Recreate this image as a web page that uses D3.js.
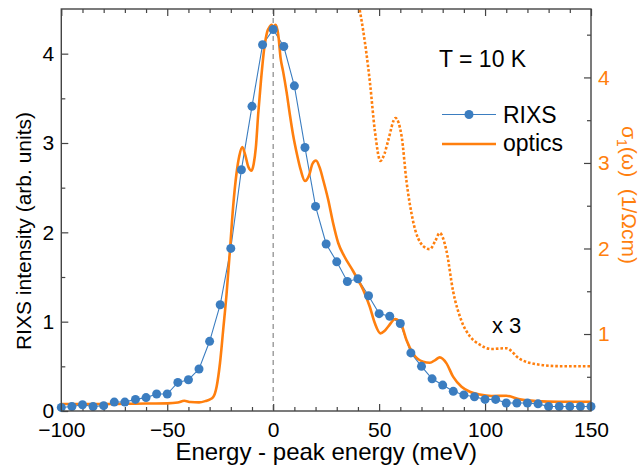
<!DOCTYPE html>
<html>
<head>
<meta charset="utf-8">
<script src="https://cdn.jsdelivr.net/npm/d3@7"></script>
<style>
  body { margin: 0; background: #fff; }
  svg text { font-family: "Liberation Sans", Arial, sans-serif; }
</style>
</head>
<body>
<svg id="chart" width="641" height="468"></svg>
<script>
// RIXS spectrum (left axis)
const rixsEnergy = [-100, -95, -90, -85, -80, -75, -70, -65, -60, -55, -50, -45, -40, -35, -30, -25, -20, -15, -10, -5,
  0, 5, 10, 15, 20, 25, 30, 35, 40, 45, 50, 55, 60, 65, 70, 75, 80, 85, 90, 95, 100, 105, 110, 115, 120, 125, 130, 135, 140, 145, 150];
const rixsIntensity = [0.04, 0.05, 0.07, 0.05, 0.06, 0.10, 0.10, 0.13, 0.15, 0.19, 0.19, 0.32, 0.35, 0.47, 0.78, 1.19, 1.82, 2.70, 3.41, 4.10,
  4.27, 4.08, 3.64, 2.95, 2.29, 1.87, 1.67, 1.45, 1.48, 1.29, 1.09, 1.06, 0.98, 0.65, 0.50, 0.36, 0.29, 0.22, 0.18, 0.16, 0.13, 0.13, 0.09, 0.09, 0.09, 0.08, 0.05, 0.05, 0.05, 0.05, 0.05];

// optical conductivity sigma1 (right axis)
const opticsEnergy = [-100, -80, -60, -50, -45, -42, -39, -35, -32, -30, -28.3, -26.7, -25.1, -23.6, -22, -20.4, -18.9, -17.3, -16, -14.6,
  -13.2, -11.7, -10.2, -9.2, -8.2, -7.1, -5.8, -4.2, -2.8, -1.6, -0.8, 0, 1.2, 2.4, 3.5, 4.7, 6.3, 7.9, 9.4, 11.3,
  13, 15, 17, 18.5, 20.2, 22, 23.6, 26, 28.3, 30.7, 33.5, 37.7, 40.9, 42.5, 45.6, 48, 50.6, 52.5, 54.2, 57.7,
  60.6, 62.9, 66, 70.8, 73.9, 76.5, 78.6, 81.8, 84.9, 88.9, 92.8, 97.5, 103, 110, 116.4, 124, 135, 150];
const opticsSigma = [0.181, 0.181, 0.187, 0.189, 0.199, 0.220, 0.205, 0.201, 0.216, 0.234, 0.263, 0.384, 0.661, 1.047, 1.468, 1.982, 2.489, 2.880, 3.082, 3.187,
  3.094, 2.953, 2.910, 2.988, 3.175, 3.561, 3.951, 4.342, 4.536, 4.594, 4.614, 4.596, 4.614, 4.497, 4.225, 4.068, 3.834, 3.561, 3.327, 3.094,
  2.918, 2.789, 2.859, 2.988, 3.029, 2.942, 2.801, 2.567, 2.295, 2.064, 1.912, 1.737, 1.593, 1.515, 1.319, 1.125, 1.008, 1.035, 1.085, 1.175,
  1.105, 0.930, 0.774, 0.676, 0.664, 0.696, 0.727, 0.657, 0.501, 0.384, 0.325, 0.292, 0.275, 0.278, 0.236, 0.216, 0.208, 0.208];

const zoomFactor = 3;      // dotted curve = optics x 3
const zoomStart = 35;      // dotted curve only drawn from here on

const xTicks = [-100, -50, 0, 50, 100, 150];
const yLeftTicks = [0, 1, 2, 3, 4];
const yRightTicks = [1, 2, 3, 4];

const blue = "#3b7dc0";
const orange = "#ff7f0e";
const frameColor = "#444";

let svg = d3.select("#chart");

const plotLeft = 61.3, plotRight = 591, plotTop = 9, plotBottom = 411;

let x = d3.scaleLinear().domain([-100, 150]).range([plotLeft, plotRight]);
let yL = d3.scaleLinear().domain([0, 4.5]).range([plotBottom, plotTop]);
let yR = d3.scaleLinear().domain([0.1, 4.8]).range([plotBottom, plotTop]);

svg.append("defs").append("clipPath").attr("id", "clip")
  .append("rect").attr("x", plotLeft).attr("y", plotTop)
  .attr("width", plotRight - plotLeft).attr("height", plotBottom - plotTop);

// zero line
svg.append("line")
  .attr("x1", x(0)).attr("x2", x(0)).attr("y1", plotTop).attr("y2", plotBottom)
  .attr("stroke", "#888").attr("stroke-width", 1.2).attr("stroke-dasharray", "5,4");

// axes
function styleAxis(g, color) {
  g.select(".domain").remove();
  g.selectAll(".tick line").attr("stroke", frameColor).attr("stroke-width", 1.2);
  g.selectAll("text").attr("fill", color).style("font-size", "21px");
}

// minor ticks only, no labels
function minorAxis(g) {
  g.select(".domain").remove();
  g.selectAll(".tick text").remove();
  g.selectAll(".tick line").attr("stroke", frameColor).attr("stroke-width", 1.2);
}

const fmt = d3.format("d");
const minorX = [-90, -80, -70, -60, -40, -30, -20, -10, 10, 20, 30, 40, 60, 70, 80, 90, 110, 120, 130, 140];
const minorY = [0.5, 1.5, 2.5, 3.5];
const minorYR = [0.5, 1.5, 2.5, 3.5, 4.5];

svg.append("g").attr("transform", `translate(0,${plotBottom})`)
  .call(d3.axisBottom(x).tickValues(xTicks).tickFormat(fmt).tickSize(-7).tickPadding(11))
  .call(g => styleAxis(g, "#000"));
svg.append("g").attr("transform", `translate(0,${plotBottom})`)
  .call(d3.axisBottom(x).tickValues(minorX).tickSize(-4))
  .call(minorAxis);
svg.append("g").attr("transform", `translate(0,${plotTop})`)
  .call(d3.axisTop(x).tickValues(xTicks).tickSize(-7))
  .call(minorAxis);
svg.append("g").attr("transform", `translate(0,${plotTop})`)
  .call(d3.axisTop(x).tickValues(minorX).tickSize(-4))
  .call(minorAxis);

svg.append("g").attr("transform", `translate(${plotLeft},0)`)
  .call(d3.axisLeft(yL).tickValues(yLeftTicks).tickFormat(fmt).tickSize(-7).tickPadding(7))
  .call(g => styleAxis(g, "#000"));
svg.append("g").attr("transform", `translate(${plotLeft},0)`)
  .call(d3.axisLeft(yL).tickValues(minorY).tickSize(-4))
  .call(minorAxis);

svg.append("g").attr("transform", `translate(${plotRight},0)`)
  .call(d3.axisRight(yR).tickValues(yRightTicks).tickFormat(fmt).tickSize(-7).tickPadding(7))
  .call(g => styleAxis(g, orange));
svg.append("g").attr("transform", `translate(${plotRight},0)`)
  .call(d3.axisRight(yR).tickValues(minorYR).tickSize(-4))
  .call(minorAxis);

let plot = svg.append("g").attr("clip-path", "url(#clip)");

// optics curves
const optics = opticsEnergy.map((e, i) => ({ e: e, s: opticsSigma[i] }));
const opticsLine = d3.line()
  .x(d => x(d.e))
  .y(d => yR(d.s))
  .curve(d3.curveMonotoneX);

plot.append("path")
  .datum(optics.filter(d => d.e >= zoomStart).map(d => ({ e: d.e, s: d.s * zoomFactor })))
  .attr("d", opticsLine)
  .attr("fill", "none")
  .attr("stroke", orange)
  .attr("stroke-width", 2.6)
  .attr("stroke-dasharray", "2.6,2");

// RIXS
const rixs = rixsEnergy.map((e, i) => ({ e: e, v: rixsIntensity[i] }));
plot.append("path")
  .datum(rixs)
  .attr("d", d3.line().x(d => x(d.e)).y(d => yL(d.v)))
  .attr("fill", "none")
  .attr("stroke", blue)
  .attr("stroke-width", 1.1);

plot.append("path")
  .datum(optics)
  .attr("d", opticsLine)
  .attr("fill", "none")
  .attr("stroke", orange)
  .attr("stroke-width", 2.6);

svg.selectAll("circle.rixs")
  .data(rixs)
  .enter()
  .append("circle")
  .attr("class", "rixs")
  .attr("cx", d => x(d.e))
  .attr("cy", d => yL(d.v))
  .attr("r", 4.5)
  .attr("fill", blue);

// frame
svg.append("rect")
  .attr("x", plotLeft).attr("y", plotTop)
  .attr("width", plotRight - plotLeft).attr("height", plotBottom - plotTop)
  .attr("fill", "none").attr("stroke", frameColor).attr("stroke-width", 1.4);

// legend
svg.append("text").attr("x", 439).attr("y", 67).style("font-size", "23px").text("T = 10 K");
svg.append("line").attr("x1", 442).attr("x2", 496).attr("y1", 114.5).attr("y2", 114.5)
  .attr("stroke", blue).attr("stroke-width", 1.1);
svg.append("circle").attr("cx", 469).attr("cy", 114.5).attr("r", 4.5).attr("fill", blue);
svg.append("text").attr("x", 503).attr("y", 122.5).style("font-size", "23px").text("RIXS");
svg.append("line").attr("x1", 442).attr("x2", 496).attr("y1", 144).attr("y2", 144)
  .attr("stroke", orange).attr("stroke-width", 2.6);
svg.append("text").attr("x", 503).attr("y", 151).style("font-size", "23px").text("optics");

svg.append("text").attr("x", 492).attr("y", 333).style("font-size", "22px").text("x 3");

// axis titles
svg.append("text")
  .attr("x", (plotLeft + plotRight) / 2).attr("y", 460)
  .style("text-anchor", "middle").style("font-size", "24px")
  .text("Energy - peak energy (meV)");

svg.append("text")
  .attr("transform", "translate(31,231) rotate(-90)")
  .style("text-anchor", "middle").style("font-size", "21px")
  .text("RIXS intensity (arb. units)");

let rt = svg.append("text")
  .attr("transform", "translate(622,126) rotate(90)")
  .attr("fill", orange)
  .style("white-space", "pre")
  .style("font-size", "21px");
rt.append("tspan").text("σ");
rt.append("tspan").attr("dy", 5).style("font-size", "14px").text("1");
rt.append("tspan").attr("dy", -5).text("(ω)  (1/Ωcm)");
</script>
</body>
</html>
